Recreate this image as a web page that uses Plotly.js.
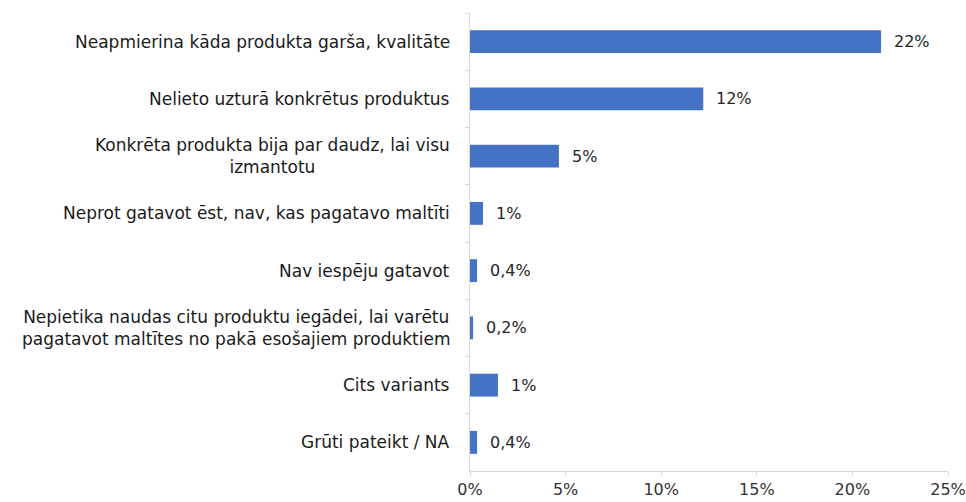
<!DOCTYPE html>
<html>
<head>
<meta charset="utf-8">
<script src="https://cdn.plot.ly/plotly-3.0.1.min.js"></script>
<style>html,body{margin:0;padding:0;background:#fff;}#chart{width:966px;height:502px;}</style>
</head>
<body>
<div id="chart"></div>
<script>
var categories = [
  "Neapmierina kāda produkta garša, kvalitāte",
  "Nelieto uzturā konkrētus produktus",
  "Konkrēta produkta bija par daudz, lai visu<br>izmantotu",
  "Neprot gatavot ēst, nav, kas pagatavo maltīti",
  "Nav iespēju gatavot",
  "Nepietika naudas citu produktu iegādei, lai varētu<br>pagatavot maltītes no pakā esošajiem produktiem",
  "Cits variants",
  "Grūti pateikt / NA"
];
var values = [21.5, 12.2, 4.65, 0.68, 0.37, 0.16, 1.46, 0.37];
var valueLabels = ["22%", "12%", "5%", "1%", "0,4%", "0,2%", "1%", "0,4%"];
var tickVals = [0, 5, 10, 15, 20, 25];

var font = "'DejaVu Sans', sans-serif";
var ids = categories.map(function(c, i){ return "c" + i; });

var annotations = [];
categories.forEach(function(c, i){
  annotations.push({
    x: 0, xref: "paper", y: ids[i], yref: "y",
    text: c, showarrow: false, xanchor: "right", yanchor: "middle",
    align: "center", xshift: -18,
    font: {family: font, size: 17, color: "#1a1a1a"}
  });
  annotations.push({
    x: values[i], xref: "x", y: ids[i], yref: "y",
    text: valueLabels[i], showarrow: false, xanchor: "left", yanchor: "middle",
    xshift: 11,
    font: {family: font, size: 16, color: "#262626"}
  });
});

var trace = {
  type: "bar",
  orientation: "h",
  x: values,
  y: ids,
  marker: {color: "#4472C4"},
  hoverinfo: "skip"
};

var layout = {
  width: 966, height: 502,
  margin: {l: 470, r: 18, t: 13, b: 31},
  paper_bgcolor: "#ffffff",
  plot_bgcolor: "#ffffff",
  showlegend: false,
  bargap: 0.6,
  xaxis: {
    range: [0, 25],
    tickvals: tickVals,
    ticktext: tickVals.map(function(v){ return v + "%"; }),
    showgrid: false, zeroline: false,
    showline: true, linecolor: "#d9d9d9", linewidth: 1,
    ticks: "outside", ticklen: 4, tickcolor: "#d9d9d9",
    tickfont: {family: font, size: 16, color: "#333333"},
    fixedrange: true
  },
  yaxis: {
    type: "category",
    autorange: "reversed",
    showticklabels: false,
    showgrid: false, zeroline: false,
    showline: true, linecolor: "#d9d9d9", linewidth: 1,
    ticks: "outside", ticklen: 4, tickcolor: "#d9d9d9",
    tickson: "boundaries",
    fixedrange: true
  },
  annotations: annotations
};

Plotly.newPlot("chart", [trace], layout, {displayModeBar: false, staticPlot: true});
</script>
</body>
</html>
